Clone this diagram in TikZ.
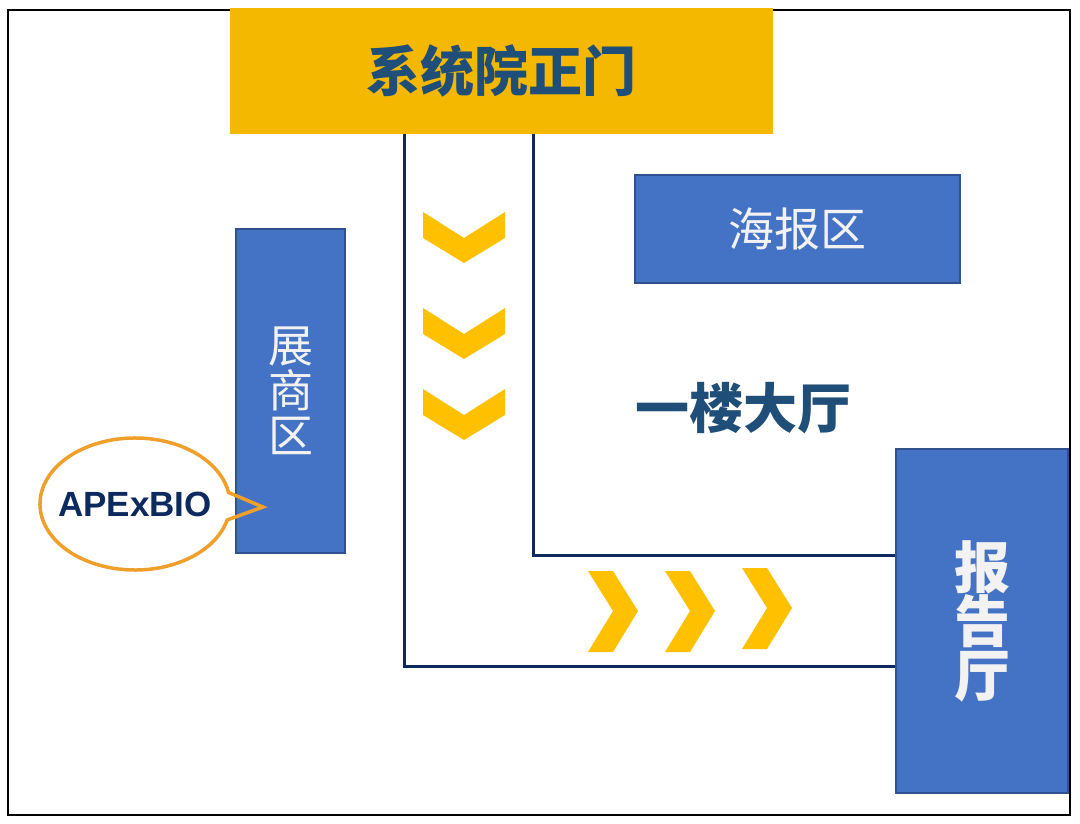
\documentclass[tikz,border=0pt]{standalone}
\usepackage{fontspec}
\setmainfont{Liberation Sans}
\newfontfamily\cjk{Noto Sans CJK SC}

\definecolor{gold}{HTML}{F4B800}
\definecolor{chevron}{HTML}{FFC000}
\definecolor{boxblue}{HTML}{4472C4}
\definecolor{boxedge}{HTML}{2F528F}
\definecolor{navy}{HTML}{0D2A5E}
\definecolor{titleblue}{HTML}{1F4E79}
\definecolor{bubble}{HTML}{F0A02A}

\tikzset{
  area/.style={fill=boxblue, draw=boxedge, line width=1.5pt, text=white!95!black,
    inner sep=0pt, align=center},
  wall/.style={draw=navy, line width=3pt},
  chev/.style={fill=chevron},
}

\begin{document}
\begin{tikzpicture}[x=1pt, y=-1pt]
	\useasboundingbox (0, 0) rectangle (1080, 824);
	\fill[white] (0, 0) rectangle (1080, 824);
	\draw[line width=2.5pt] (8, 10) rectangle (1070, 815);

	% main gate
	\node[fill=gold, minimum width=543, minimum height=126, inner sep=0pt,
		text=titleblue, font=\cjk\bfseries\fontsize{54}{54}\selectfont] (gate) at (501.5, 71) {系统院正门};

	% areas
	\node[area, minimum width=325, minimum height=108,
		font=\cjk\fontsize{46}{46}\selectfont] (poster) at (797.5, 229) {海报区};
	\node[area, minimum width=109, minimum height=324,
		font=\cjk\fontsize{45}{45}\selectfont] (expo) at (290.5, 391) {展\\商\\区};
	\node[area, minimum width=172, minimum height=344,
		font=\cjk\bfseries\fontsize{56}{54}\selectfont] (hall) at (982, 621) {报\\告\\厅};

	\node[text=titleblue, font=\cjk\bfseries\fontsize{54}{54}\selectfont] (lobby) at (743, 408) {一楼大厅};

	% corridor
	\draw[wall] ([xshift=-97.5pt]gate.south) |- ([yshift=-45pt]hall.west);
	\draw[wall] ([xshift=31.5pt]gate.south) |- ([yshift=66pt]hall.west);

	% arrows
	\foreach \y in {212, 308, 389}
		\fill[chev] (423, \y) -- (464, \y+26) -- (505, \y) -- (505, \y+26) -- (464, \y+51) -- (423, \y+26) -- cycle;
	\foreach \x/\y in {588/571, 665/571, 742/568}
		\fill[chev] (\x, \y) -- (\x+25, \y) -- (\x+50, \y+40) -- (\x+25, \y+81) -- (\x, \y+81) -- (\x+25, \y+40) -- cycle;

	% callout
	\node[text=navy, font=\bfseries\fontsize{35}{35}\selectfont] (apex) at (135, 504) {APExBIO};
	\coordinate (tip) at (263, 507);
	\draw[bubble, line width=3.5pt, line join=miter] (tip) -- ([shift={(14:95 and 66)}]apex.center)
		arc[start angle=14, end angle=350, x radius=95, y radius=66] -- cycle;
\end{tikzpicture}
\end{document}
